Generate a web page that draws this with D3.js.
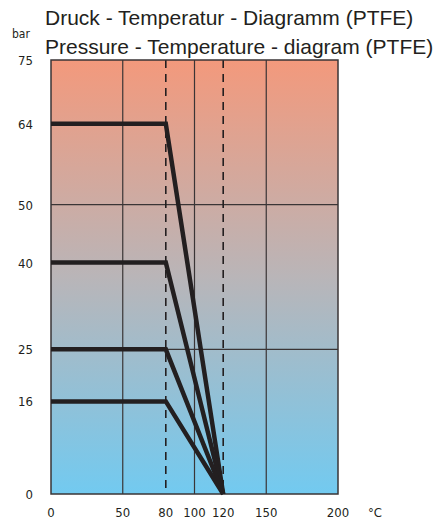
<!DOCTYPE html>
<html>
<head>
<meta charset="utf-8">
<script src="https://cdn.jsdelivr.net/npm/d3@7"></script>
<style>
  body { margin: 0; background: #fff; }
  .tick-label { font-family: "Liberation Sans Narrow", "DejaVu Sans Condensed", "Liberation Sans", sans-serif; font-size: 13px; fill: #231f20; }
  .title { font-family: "Liberation Sans", Arial, sans-serif; font-size: 21px; fill: #231f20; }
</style>
</head>
<body>
<div id="chart"></div>
<script>
(function(){
// ratings: pressure held up to 80 °C, then falling to 0 bar at 120 °C
const pressures = [64, 40, 25, 16];
const tempFlat = 80;
const tempZero = 120;

const xTicks = [0, 50, 80, 100, 120, 150, 200];
const yTicks = [0, 16, 25, 40, 50, 64, 75];
const xGrid = [50, 100, 150];
const yGrid = [25, 50];
const xDashed = [80, 120];

const W = 441, H = 519;
const margin = { top: 60, right: 103, bottom: 25, left: 51 };
const width = W - margin.left - margin.right;
const height = H - margin.top - margin.bottom;

const svg = d3.select("#chart").append("svg")
    .attr("width", W)
    .attr("height", H);

const defs = svg.append("defs");
const grad = defs.append("linearGradient")
    .attr("id", "bg")
    .attr("x1", 0).attr("y1", 0).attr("x2", 0).attr("y2", 1);
grad.append("stop").attr("offset", "0%").attr("stop-color", "#f3997c");
grad.append("stop").attr("offset", "50%").attr("stop-color", "#b9b5b8");
grad.append("stop").attr("offset", "100%").attr("stop-color", "#72caf0");

const g = svg.append("g")
    .attr("transform", `translate(${margin.left},${margin.top})`);

const x = d3.scaleLinear().domain([0, 200]).range([0, width]);
const y = d3.scaleLinear().domain([0, 75]).range([height, 0]);

// background
g.append("rect")
    .attr("width", width)
    .attr("height", height)
    .attr("fill", "url(#bg)");

// grid
g.selectAll(".vgrid").data(xGrid).enter().append("line")
    .attr("x1", d => x(d)).attr("x2", d => x(d))
    .attr("y1", 0).attr("y2", height)
    .attr("stroke", "#3a3536").attr("stroke-width", 1.2);

g.selectAll(".hgrid").data(yGrid).enter().append("line")
    .attr("y1", d => y(d)).attr("y2", d => y(d))
    .attr("x1", 0).attr("x2", width)
    .attr("stroke", "#3a3536").attr("stroke-width", 1.2);

g.selectAll(".dash").data(xDashed).enter().append("line")
    .attr("x1", d => x(d)).attr("x2", d => x(d))
    .attr("y1", 0).attr("y2", height)
    .attr("stroke", "#231f20").attr("stroke-width", 1.6)
    .attr("stroke-dasharray", "8,6");

// border
g.append("rect")
    .attr("width", width)
    .attr("height", height)
    .attr("fill", "none")
    .attr("stroke", "#3a3536")
    .attr("stroke-width", 1.5);

// curves
const line = d3.line().x(d => x(d[0])).y(d => y(d[1]));
g.selectAll(".curve").data(pressures).enter().append("path")
    .attr("d", p => line([[0, p], [tempFlat, p], [tempZero, 0]]))
    .attr("fill", "none")
    .attr("stroke", "#231f20")
    .attr("stroke-width", 4.5)
    .attr("stroke-linejoin", "miter");

// tick labels
g.selectAll(".xl").data(xTicks).enter().append("text")
    .attr("class", "tick-label")
    .attr("x", d => x(d))
    .attr("y", height + 23)
    .attr("text-anchor", "middle")
    .text(d => d);

g.selectAll(".yl").data(yTicks).enter().append("text")
    .attr("class", "tick-label")
    .attr("x", -18)
    .attr("y", d => y(d) + 5)
    .attr("text-anchor", "end")
    .text(d => d);

g.append("text")
    .attr("class", "tick-label")
    .attr("x", width + 30)
    .attr("y", height + 23)
    .text("°C");

svg.append("text")
    .attr("class", "tick-label")
    .attr("x", 12)
    .attr("y", 38)
    .style("font-size", "12px")
    .text("bar");

// title
svg.append("text")
    .attr("class", "title")
    .attr("x", 45)
    .attr("y", 25)
    .text("Druck - Temperatur - Diagramm (PTFE)");
svg.append("text")
    .attr("class", "title")
    .attr("x", 45)
    .attr("y", 54)
    .text("Pressure - Temperature - diagram (PTFE)");
})();
</script>
</body>
</html>
